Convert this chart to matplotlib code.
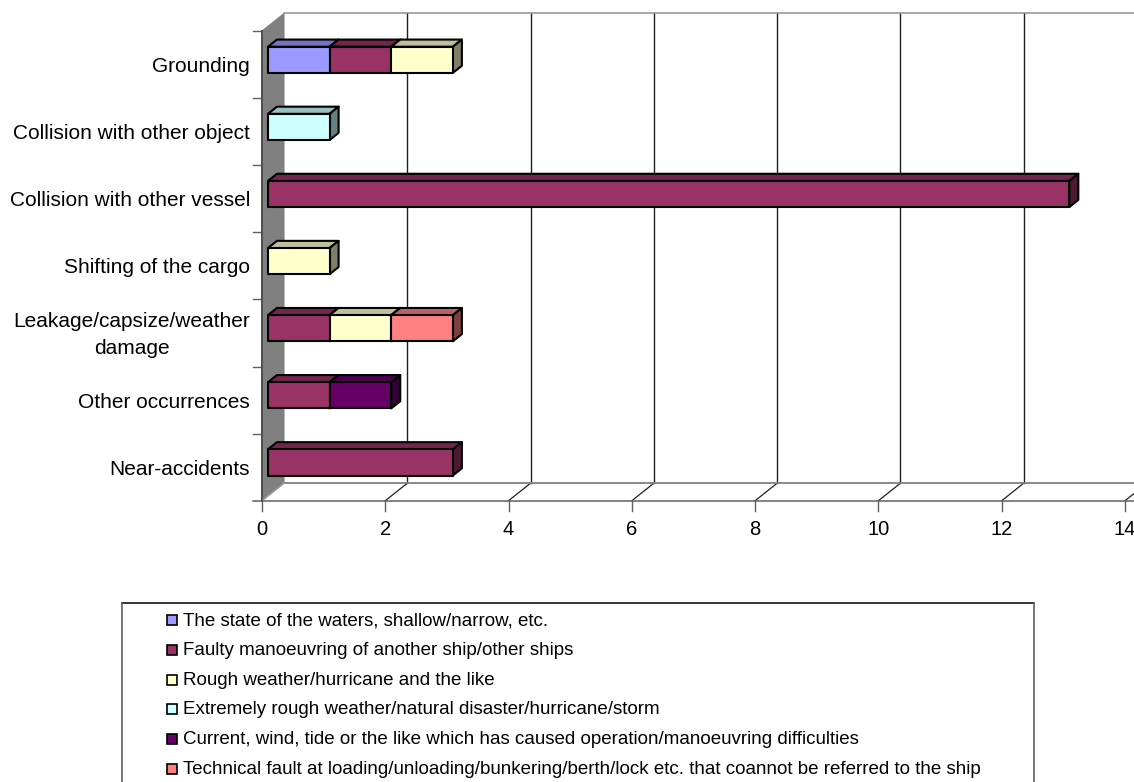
import numpy as np
import matplotlib
matplotlib.use('Agg')
import matplotlib.pyplot as plt
from matplotlib.lines import Line2D
from matplotlib.patches import Polygon, Rectangle

plt.rcParams['font.family'] = ['Liberation Sans', 'DejaVu Sans']

categories = ['Grounding', 'Collision with other object', 'Collision with other vessel',
              'Shifting of the cargo', 'Leakage/capsize/weather\ndamage',
              'Other occurrences', 'Near-accidents']
series_names = ['The state of the waters, shallow/narrow, etc.',
                'Faulty manoeuvring of another ship/other ships',
                'Rough weather/hurricane and the like',
                'Extremely rough weather/natural disaster/hurricane/storm',
                'Current, wind, tide or the like which has caused operation/manoeuvring difficulties',
                'Technical fault at loading/unloading/bunkering/berth/lock etc. that coannot be referred to the ship']
waters = [1, 0, 0, 0, 0, 0, 0]
faulty = [1, 0, 13, 0, 1, 1, 3]
rough = [1, 0, 0, 1, 1, 0, 0]
extreme = [0, 1, 0, 0, 0, 0, 0]
current = [0, 0, 0, 0, 0, 1, 0]
technical = [0, 0, 0, 0, 1, 0, 0]
series_values = [waters, faulty, rough, extreme, current, technical]
colours = ['#9999FF', '#993366', '#FFFFCC', '#CCFFFF', '#660066', '#FF8080']
x_ticks = [0, 2, 4, 6, 8, 10, 12, 14]

W, H = 1134, 782
LEFT, RIGHT, TOP, BOTTOM = 262, 1125, 31, 500.7
DEPTH_X, DEPTH_Y = 22, 17.5   # size of the wall offset in pixels
BAR_FRONT, BAR_BACK = 0.27, 0.68
BAR_WIDTH = 0.39

fig = plt.figure(figsize=(W / 100, H / 100), dpi=100)
ax = fig.add_axes([LEFT / W, 1 - BOTTOM / H, (RIGHT - LEFT) / W, (BOTTOM - TOP) / H])
ax.set_xlim(0, 14)
ax.set_ylim(len(categories), 0)
ax.axis('off')

ux = (RIGHT - LEFT) / 14
uy = (BOTTOM - TOP) / len(categories)


def project(x, y, d):
    # push a point d (0..1) back into the depth of the chart
    return x + d * DEPTH_X / ux, y - d * DEPTH_Y / uy


def face(pts, colour, z=3, edge='black', lw=1.5):
    ax.add_patch(Polygon(pts, closed=True, facecolor=colour, edgecolor=edge, linewidth=lw,
                         joinstyle='round', clip_on=False, zorder=z))


def shade(colour, f):
    rgb = np.array(matplotlib.colors.to_rgb(colour))
    return tuple(rgb * f)


n = len(categories)
# side wall
face([project(0, 0, 0), project(0, 0, 1), project(0, n, 1), project(0, n, 0)], '#808080', z=1, edge='#808080', lw=0.8)
ax.plot([0, 0], [0, n], color='#505050', lw=1.4, clip_on=False, zorder=2)

# back wall lines
for v in x_ticks[1:]:
    bx, by0 = project(v, 0, 1)
    _, by1 = project(v, n, 1)
    ax.plot([bx, bx], [by0, by1], color='#202020', lw=1, clip_on=False, zorder=1)
    fx, fy = project(v, n, 0)
    bx2, by2 = project(v, n, 1)
    ax.plot([fx, bx2], [fy, by2], color='#202020', lw=0.9, clip_on=False, zorder=1)
for v in x_ticks:
    ax.plot([v, v], [n, n + 10 / uy], color='#606060', lw=1, clip_on=False, zorder=1)
    ax.text(v, n + 29 / uy, str(v), ha='center', va='center', fontsize=14.5, clip_on=False)

# wall top and floor
x0, y_top = project(0, 0, 1)
x0, y_floor = project(0, n, 1)
ax.plot([x0, 16], [y_top, y_top], color='#909090', lw=1.1, clip_on=False, zorder=1)
ax.plot([x0, 16], [y_floor, y_floor], color='#808080', lw=1.3, clip_on=False, zorder=1)
ax.plot([-9 / ux, 16], [n, n], color='#606060', lw=1.1, clip_on=False, zorder=1)
ax.plot([0, x0], [n, y_floor], color='#a0a0a0', lw=1, clip_on=False, zorder=1)

# category ticks and names
for i, name in enumerate(categories):
    ax.plot([-9 / ux, 0], [i, i], color='#606060', lw=1, clip_on=False, zorder=1)
    ax.text(-12 / ux, i + 0.5 + 2 / uy, name, ha='right', va='center', fontsize=15, linespacing=1.55,
            multialignment='center', clip_on=False)

# stacked bars, drawn left to right so each one covers the last one's side
for i in range(n):
    y0 = i + 0.5 - BAR_WIDTH / 2
    y1 = i + 0.5 + BAR_WIDTH / 2
    left = 0
    for vals, colour in zip(series_values, colours):
        v = vals[i]
        if v == 0:
            continue
        right = left + v
        fl = project(left, y0, BAR_FRONT)
        fr = project(right, y0, BAR_FRONT)
        frb = project(right, y1, BAR_FRONT)
        flb = project(left, y1, BAR_FRONT)
        bl = project(left, y0, BAR_BACK)
        br = project(right, y0, BAR_BACK)
        brb = project(right, y1, BAR_BACK)
        face([fl, fr, br, bl], shade(colour, 0.75))
        face([fr, frb, brb, br], shade(colour, 0.5))
        face([fl, fr, frb, flb], colour, z=4)
        left = right

# legend box, its lower edge runs off the bottom of the figure
fig.add_artist(Line2D([122 / W, 1034 / W], [1 - 603 / H, 1 - 603 / H], color='black', lw=1.1))
for bx in (122, 1034):
    fig.add_artist(Line2D([bx / W, bx / W], [1 - 603 / H, 0], color='#606060', lw=1.2))
for j, (name, colour) in enumerate(zip(series_names, colours)):
    ly = 620 + j * 29.8
    fig.add_artist(Rectangle((167 / W, 1 - (ly + 5) / H), 10 / W, 10 / H, facecolor=colour,
                             edgecolor='black', lw=1.2, transform=fig.transFigure))
    fig.text(183 / W, 1 - (ly + 0.5) / H, name, ha='left', va='center', fontsize=13.5)

fig.savefig('out.png', dpi=100)
